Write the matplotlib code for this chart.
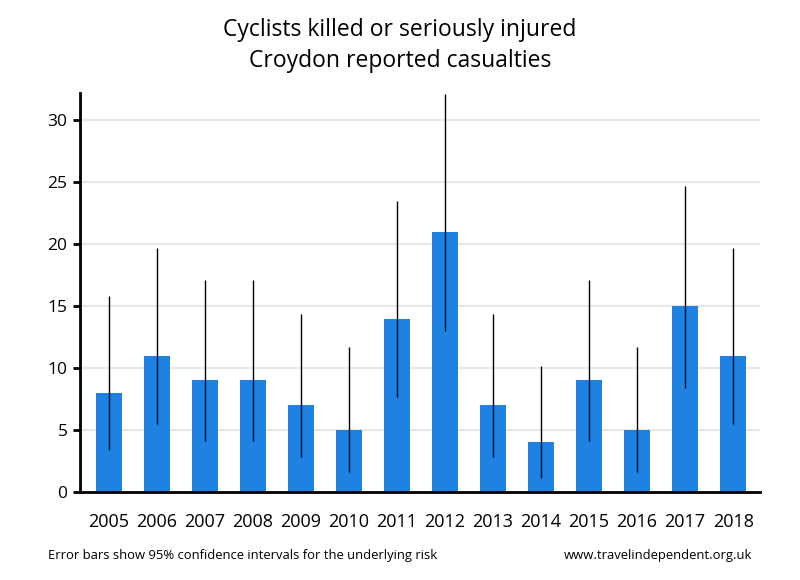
import matplotlib
matplotlib.use('Agg')
import matplotlib.pyplot as plt
import numpy as np

years = ['2005', '2006', '2007', '2008', '2009', '2010', '2011',
         '2012', '2013', '2014', '2015', '2016', '2017', '2018']
casualties = [8, 11, 9, 9, 7, 5, 14, 21, 7, 4, 9, 5, 15, 11]
ci_low = [3.4, 5.5, 4.1, 4.1, 2.8, 1.6, 7.7, 13.0, 2.8, 1.1, 4.1, 1.6, 8.4, 5.5]
ci_high = [15.8, 19.7, 17.1, 17.1, 14.4, 11.7, 23.5, 32.1, 14.4, 10.2, 17.1, 11.7, 24.7, 19.7]

plt.rcParams['font.family'] = ['Open Sans', 'DejaVu Sans']

fig = plt.figure(figsize=(8, 5.8), dpi=100)
ax = fig.add_axes([0.1, 0.1517, 0.85, 0.688])

x = np.arange(len(years))
ax.bar(x, casualties, width=0.54, color='#1f82e0', zorder=2)
ax.vlines(x, ci_low, ci_high, color='black', linewidth=1, zorder=3)

ax.set_xlim(-0.6, len(years) - 1 + 0.56)
ax.set_ylim(0, 32.2)
ax.set_yticks([0, 5, 10, 15, 20, 25, 30])
ax.set_xticks(x)
ax.set_xticklabels(years)
ax.tick_params(axis='x', length=0, labelsize=13, pad=15)
ax.tick_params(axis='y', length=5, width=2, labelsize=12.5, pad=4)
ax.yaxis.grid(True, color='#e8e8e8', linewidth=1.6, zorder=0)
ax.set_axisbelow(True)
for side in ['top', 'right']:
    ax.spines[side].set_visible(False)
for side in ['left', 'bottom']:
    ax.spines[side].set_linewidth(2)

fig.text(0.5, 0.948, 'Cyclists killed or seriously injured', ha='center', va='center', fontsize=16.5)
fig.text(0.5, 0.895, 'Croydon reported casualties', ha='center', va='center', fontsize=16.5)
fig.text(0.06, 0.043, 'Error bars show 95% confidence intervals for the underlying risk', ha='left', va='center', fontsize=9.4)
fig.text(0.94, 0.043, 'www.travelindependent.org.uk', ha='right', va='center', fontsize=9.4)

fig.savefig('out.png', dpi=100)
